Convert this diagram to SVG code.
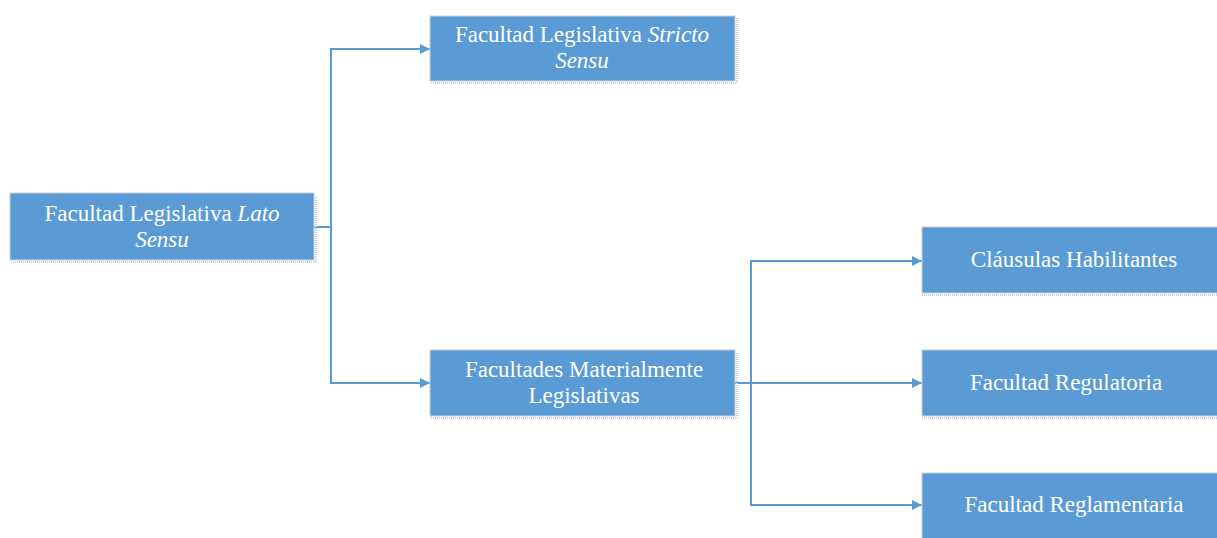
<svg xmlns="http://www.w3.org/2000/svg" width="1217" height="538" viewBox="0 0 1217 538">
<defs>
<style>
.box{fill:#5B9BD5;stroke:#C9CED6;stroke-width:1}
.sh{fill:none;stroke:#C5D6EA;stroke-width:2;stroke-dasharray:1 1}
.t{font-family:"Liberation Serif","Times New Roman",serif;font-size:23px;fill:#FFFFFF;text-anchor:middle}
.i{font-style:italic}
.c{fill:none;stroke:#5B9BD5;stroke-width:2}
</style>
<marker id="ah" viewBox="0 0 10 10" refX="10" refY="5" markerWidth="5" markerHeight="5" orient="auto" markerUnits="strokeWidth">
<path d="M0,0 L10,5 L0,10 z" fill="#5B9BD5"/>
</marker>
</defs>
<g id="connectors">
<path class="c" d="M314,227 H331 V49 H430" marker-end="url(#ah)"/>
<path class="c" d="M331,227 V383 H430" marker-end="url(#ah)"/>
<path class="c" d="M735,383 H751 V261 H922" marker-end="url(#ah)"/>
<path class="c" d="M751,383 H922" marker-end="url(#ah)"/>
<path class="c" d="M751,383 V505 H922" marker-end="url(#ah)"/>
</g>
<g id="n1">
<path class="sh" d="M11,262 H316 V195"/>
<rect class="box" x="10" y="193" width="304" height="67"/>
<text class="t" x="162" y="221">Facultad Legislativa <tspan class="i">Lato</tspan></text>
<text class="t i" x="162" y="247">Sensu</text>
</g>
<g id="n2">
<path class="sh" d="M431,83 H737 V18"/>
<rect class="box" x="430" y="16" width="305" height="65"/>
<text class="t" x="582" y="42">Facultad Legislativa <tspan class="i">Stricto</tspan></text>
<text class="t i" x="582" y="68">Sensu</text>
</g>
<g id="n3">
<path class="sh" d="M431,418 H737 V352"/>
<rect class="box" x="430" y="350" width="305" height="66"/>
<text class="t" x="584" y="377">Facultades Materialmente</text>
<text class="t" x="584" y="403">Legislativas</text>
</g>
<g id="n4">
<path class="sh" d="M922,295 H1217"/>
<rect class="box" x="922" y="227" width="300" height="66"/>
<text class="t" x="1074" y="267">Cláusulas Habilitantes</text>
</g>
<g id="n5">
<path class="sh" d="M922,418 H1217"/>
<rect class="box" x="922" y="350" width="300" height="66"/>
<text class="t" x="1066" y="390">Facultad Regulatoria</text>
</g>
<g id="n6">
<rect class="box" x="922" y="473" width="300" height="70"/>
<text class="t" x="1074" y="512">Facultad Reglamentaria</text>
</g>
</svg>
